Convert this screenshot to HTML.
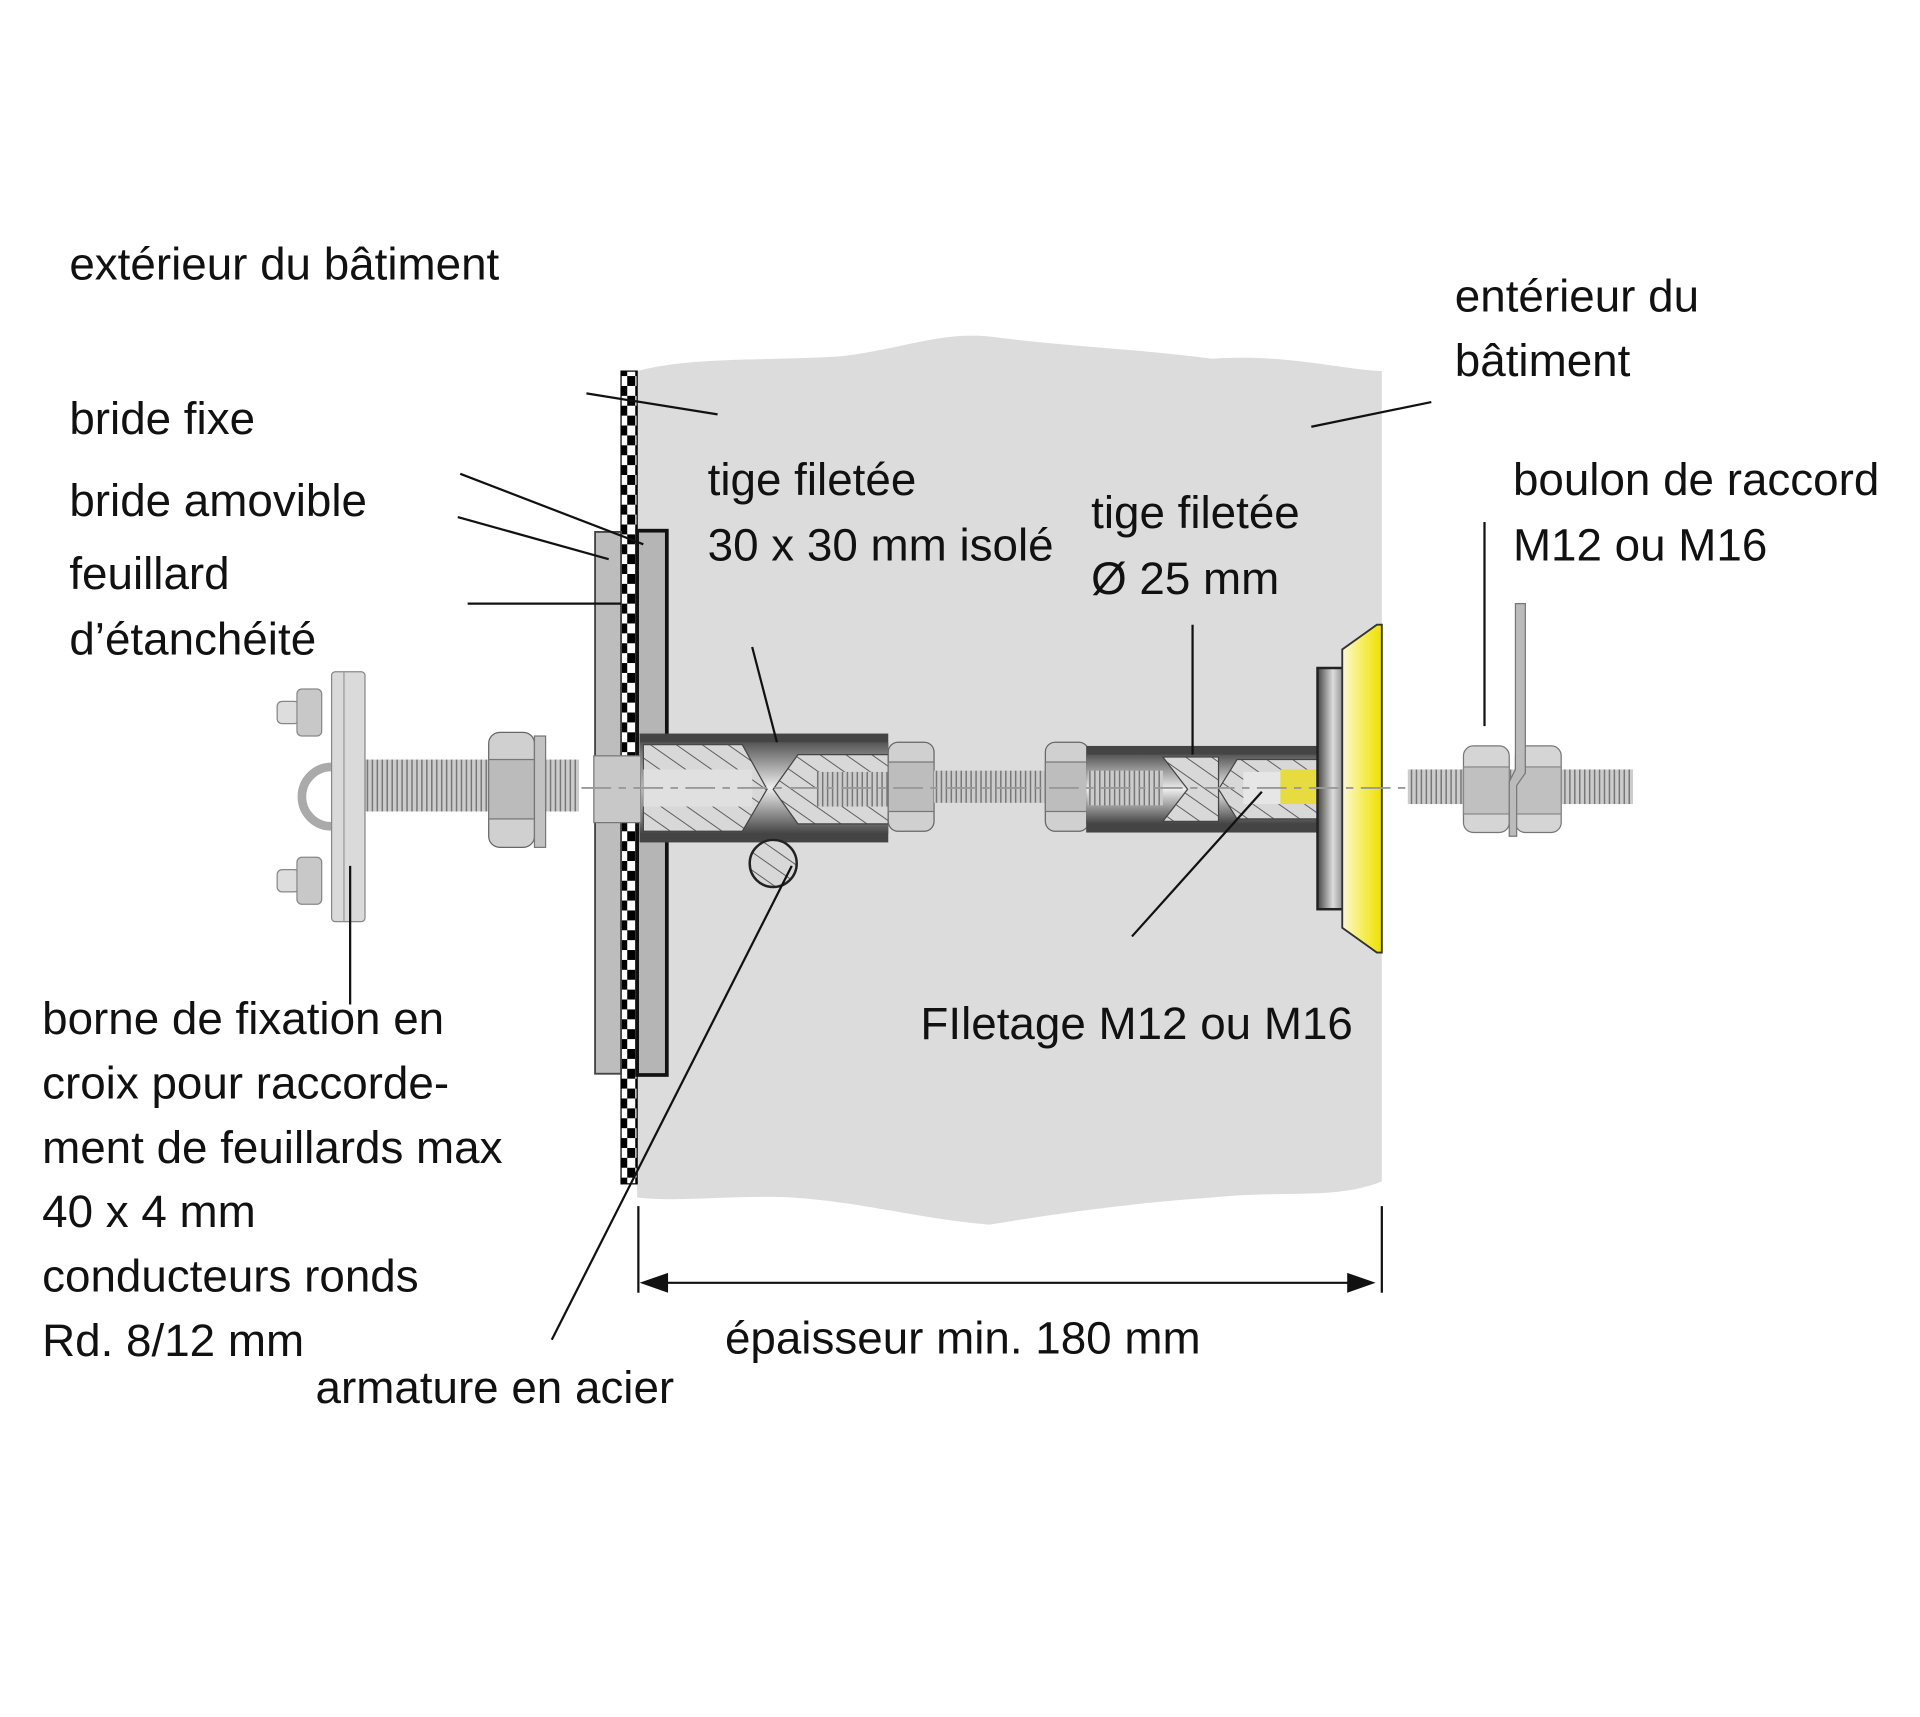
<!DOCTYPE html>
<html><head><meta charset="utf-8"><style>
html,body{margin:0;padding:0;background:#fff}
svg{display:block}
text{font-family:"Liberation Sans",sans-serif;font-size:37px;fill:#111}
</style></head><body>
<svg width="1920" height="1717" viewBox="0 0 1552 1388" xmlns="http://www.w3.org/2000/svg">
<defs>
<pattern id="chk" width="13" height="16" patternUnits="userSpaceOnUse"><rect width="13" height="16" fill="#fff"/><rect width="6.5" height="8" fill="#000"/><rect x="6.5" y="8" width="6.5" height="8" fill="#000"/></pattern>
<pattern id="hatch" width="12" height="12" patternUnits="userSpaceOnUse" patternTransform="rotate(-55)"><rect width="12" height="12" fill="#d8d8d8"/><line x1="0" y1="0" x2="0" y2="12" stroke="#555" stroke-width="1.5"/></pattern>
<pattern id="thr" width="4" height="10" patternUnits="userSpaceOnUse"><rect width="4" height="10" fill="#ccc"/><line x1="1" y1="0" x2="1" y2="10" stroke="#777" stroke-width="1.2"/></pattern>
<linearGradient id="yel" x1="0" x2="1"><stop offset="0" stop-color="#fbf8d8"/><stop offset="0.5" stop-color="#f6ee60"/><stop offset="1" stop-color="#eee000"/></linearGradient>
<linearGradient id="met" x1="0" y1="0" x2="0" y2="1"><stop offset="0" stop-color="#555"/><stop offset="0.5" stop-color="#eee"/><stop offset="1" stop-color="#444"/></linearGradient>
<linearGradient id="dsk" x1="0" x2="1"><stop offset="0" stop-color="#444"/><stop offset="0.5" stop-color="#ddd"/><stop offset="1" stop-color="#666"/></linearGradient>
</defs>

<path d="M515 300 C560 288 620 292 680 288 C730 282 760 268 800 272 C860 280 920 282 980 290 C1040 286 1080 298 1117 300 L1117 955 C1080 970 1040 962 980 968 C920 972 860 980 800 990 C740 985 700 972 640 968 C590 966 550 972 515 968 Z" fill="#dcdcdc"/>
<rect x="502" y="300" width="13" height="657" fill="url(#chk)" stroke="#000" stroke-width="1"/>
<rect x="481" y="430" width="21" height="438" fill="#bdbdbd" stroke="#444" stroke-width="1.5"/>
<rect x="515" y="429" width="24" height="440" fill="#b5b5b5" stroke="#111" stroke-width="3"/>

<rect x="517" y="593" width="201" height="88" fill="#444"/>
<rect x="517" y="600" width="201" height="74" fill="url(#met)"/>
<path d="M520 602 L600 602 L620 638 L600 672 L520 672 Z" fill="url(#hatch)" stroke="#444"/>
<rect x="520" y="622" width="88" height="30" fill="#e0e0e0"/>
<path d="M625 638 L645 610 L718 610 L718 666 L645 666 Z" fill="url(#hatch)" stroke="#444"/>
<rect x="660" y="624" width="58" height="28" fill="url(#thr)"/>
<rect x="480" y="611" width="38" height="54" fill="#c8c8c8" stroke="#777"/>

<rect x="718" y="600" width="37" height="72" rx="8" fill="#d0d0d0" stroke="#666"/>
<rect x="718" y="616" width="37" height="40" fill="#bdbdbd" stroke="#777"/>
<rect x="755" y="623" width="93" height="26" fill="url(#thr)"/>
<rect x="845" y="600" width="35" height="72" rx="8" fill="#d0d0d0" stroke="#666"/>
<rect x="845" y="616" width="35" height="40" fill="#bdbdbd" stroke="#777"/>

<rect x="878" y="603" width="188" height="70" fill="#444"/>
<rect x="878" y="610" width="188" height="56" fill="url(#met)"/>
<rect x="880" y="623" width="60" height="28" fill="url(#thr)"/>
<path d="M940 612 L960 638 L940 664 L985 664 L985 612 Z" fill="url(#hatch)" stroke="#444"/>
<path d="M985 638 L1000 614 L1065 614 L1065 662 L1000 662 Z" fill="url(#hatch)" stroke="#444"/>
<rect x="1005" y="624" width="30" height="26" fill="#e6e6e6"/>
<rect x="1035" y="622" width="30" height="28" fill="#e6dc40"/>

<rect x="1065" y="540" width="25" height="195" fill="url(#dsk)" stroke="#222" stroke-width="2"/>
<path d="M1085 525 L1113 505 L1117 505 L1117 770 L1113 770 L1085 750 Z" fill="url(#yel)" stroke="#333" stroke-width="1.5"/>
<line x1="470" y1="637" x2="1140" y2="637" stroke="#999" stroke-width="1.5" stroke-dasharray="24 6 6 6"/>

<rect x="1138" y="622" width="182" height="28" fill="url(#thr)"/>
<rect x="1183" y="603" width="37" height="70" rx="8" fill="#d5d5d5" stroke="#777"/>
<rect x="1183" y="620" width="37" height="38" fill="#c0c0c0" stroke="#888"/>
<rect x="1225" y="603" width="37" height="70" rx="8" fill="#d5d5d5" stroke="#777"/>
<rect x="1225" y="620" width="37" height="38" fill="#c0c0c0" stroke="#888"/>
<path d="M1225 488 L1233 488 L1233 625 L1226 635 L1226 676 L1220 676 L1220 632 L1225 622 Z" fill="#bbb" stroke="#777"/>

<rect x="295" y="614" width="173" height="42" fill="url(#thr)"/>
<rect x="395" y="592" width="37" height="93" rx="9" fill="#d0d0d0" stroke="#666"/>
<rect x="395" y="614" width="37" height="48" fill="#bbb" stroke="#777"/>
<rect x="432" y="595" width="9" height="90" fill="#c2c2c2" stroke="#777"/>
<path d="M268 620 A22 22 0 0 0 268 668" fill="none" stroke="#aaa" stroke-width="7"/>
<rect x="268" y="543" width="27" height="202" rx="3" fill="#dadada" stroke="#888"/>
<line x1="278" y1="543" x2="278" y2="745" stroke="#999"/>
<rect x="224" y="567" width="18" height="18" rx="4" fill="#ddd" stroke="#888"/>
<rect x="240" y="557" width="20" height="38" rx="4" fill="#c8c8c8" stroke="#888"/>
<rect x="224" y="703" width="18" height="18" rx="4" fill="#ddd" stroke="#888"/>
<rect x="240" y="693" width="20" height="38" rx="4" fill="#c8c8c8" stroke="#888"/>

<circle cx="625" cy="698" r="19" fill="url(#hatch)" stroke="#222" stroke-width="2"/>

<g stroke="#111" stroke-width="1.8" fill="none">
<line x1="474" y1="318" x2="580" y2="335"/>
<line x1="1157" y1="325" x2="1060" y2="345"/>
<line x1="372" y1="383" x2="520" y2="440"/>
<line x1="370" y1="418" x2="492" y2="452"/>
<line x1="378" y1="488" x2="502" y2="488"/>
<line x1="608" y1="523" x2="628" y2="600"/>
<line x1="964" y1="505" x2="964" y2="610"/>
<line x1="1200" y1="422" x2="1200" y2="587"/>
<line x1="915" y1="757" x2="1020" y2="640"/>
<line x1="446" y1="1083" x2="640" y2="700"/>
<line x1="283" y1="812" x2="283" y2="700"/>
<line x1="516" y1="975" x2="516" y2="1045"/>
<line x1="1117" y1="975" x2="1117" y2="1045"/>
<line x1="530" y1="1037" x2="1100" y2="1037"/>
</g>
<path d="M517 1037 L540 1029 L540 1045 Z" fill="#111"/>
<path d="M1112 1037 L1089 1029 L1089 1045 Z" fill="#111"/>

<text x="56" y="226">extérieur du bâtiment</text>
<text x="56" y="351">bride fixe</text>
<text x="56" y="417">bride amovible</text>
<text x="56" y="476">feuillard</text>
<text x="56" y="529">d’étanchéité</text>
<text x="572" y="400">tige filetée</text>
<text x="572" y="453">30 x 30 mm isolé</text>
<text x="882" y="427">tige filetée</text>
<text x="882" y="480">Ø 25 mm</text>
<text x="1176" y="252">entérieur du</text>
<text x="1176" y="304">bâtiment</text>
<text x="1223" y="400">boulon de raccord</text>
<text x="1223" y="453">M12 ou M16</text>
<text x="744" y="840">FIletage M12 ou M16</text>
<text x="34" y="836">borne de fixation en</text>
<text x="34" y="888">croix pour raccorde-</text>
<text x="34" y="940">ment de feuillards max</text>
<text x="34" y="992">40 x 4 mm</text>
<text x="34" y="1044">conducteurs ronds</text>
<text x="34" y="1096">Rd. 8/12 mm</text>
<text x="586" y="1094">épaisseur min. 180 mm</text>
<text x="255" y="1134">armature en acier</text>
</svg>
</body></html>
